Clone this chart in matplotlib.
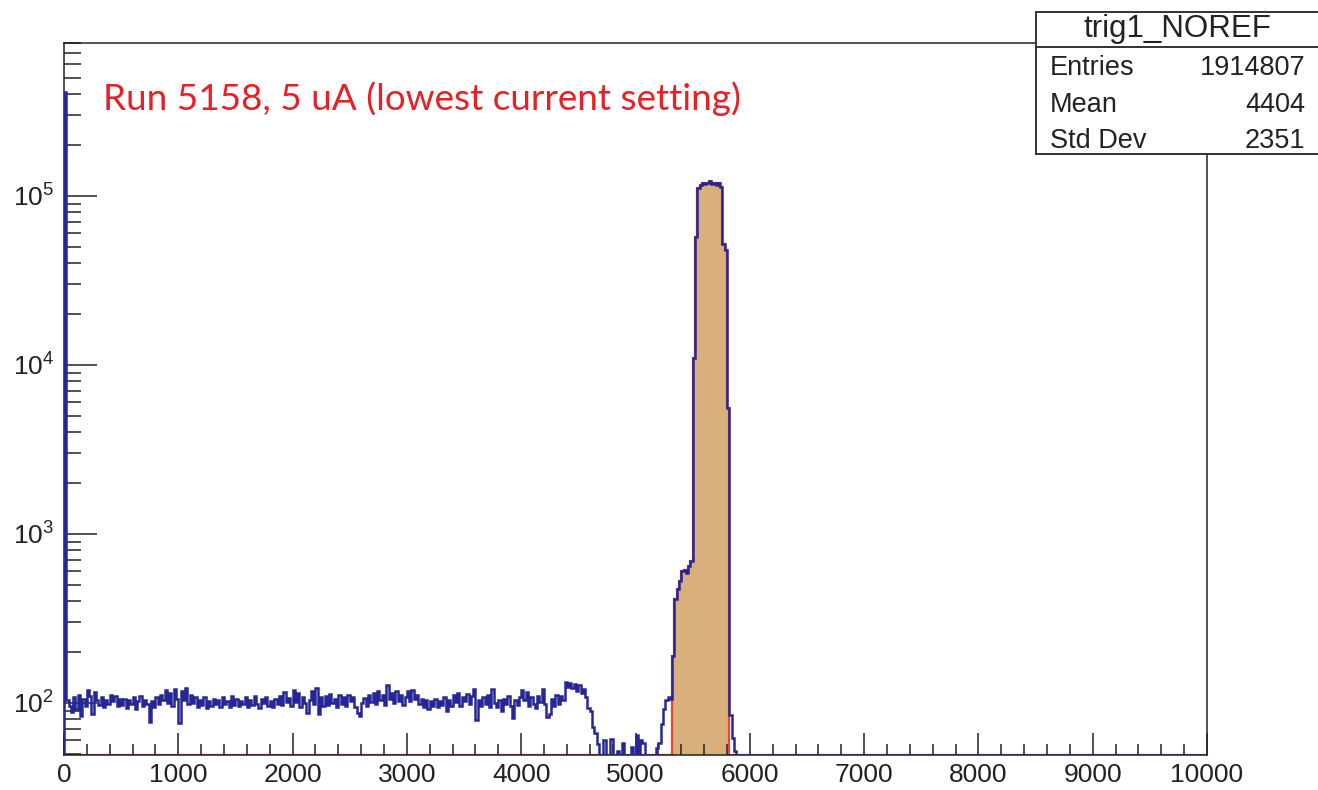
import numpy as np
import matplotlib
matplotlib.use("Agg")
import matplotlib.pyplot as plt
from matplotlib.ticker import LogLocator, FixedLocator, FixedFormatter, MultipleLocator, NullFormatter
from matplotlib.patches import Rectangle

# ---------------- data ----------------
x_min, x_max, n_bins = 0, 10000, 500
sel_lo, sel_hi = 5320, 5820          # range of the filled (selected) histogram

counts_nonzero = (
    [410000, 104, 96, 88, 109, 92, 112, 84, 106, 96, 120, 110, 86, 116, 104, 97, 108, 95, 104, 99, 112, 103, 110, 96, 106] +
    [97, 105, 93, 104, 98, 108, 92, 102, 110, 96, 104, 99, 77, 103, 95, 108, 99, 112, 104, 119, 100, 114, 96, 121, 106] +
    [76, 118, 104, 122, 98, 111, 100, 108, 94, 104, 97, 109, 93, 102, 96, 106, 98, 104, 95, 108, 99, 103, 95, 110, 97] +
    [105, 96, 103, 99, 108, 94, 104, 97, 110, 99, 93, 106, 100, 109, 96, 102, 95, 106, 99, 110, 97, 116, 101, 107, 96] +
    [120, 101, 115, 94, 108, 100, 87, 104, 118, 98, 123, 86, 109, 96, 110, 97, 113, 100, 106, 94, 111, 99, 108, 96, 112] +
    [102, 108, 95, 87, 84, 100, 107, 96, 112, 101, 114, 98, 118, 104, 112, 97, 128, 106, 114, 100, 118, 103, 111, 97, 108] +
    [117, 103, 120, 106, 112, 98, 106, 95, 104, 92, 103, 96, 105, 94, 102, 97, 108, 89, 104, 96, 112, 101, 114, 96, 108] +
    [103, 113, 98, 110, 121, 79, 104, 96, 108, 99, 112, 95, 121, 100, 94, 104, 90, 106, 98, 110, 96, 81, 104, 97, 108] +
    [120, 104, 116, 96, 108, 99, 93, 110, 101, 121, 98, 83, 86, 106, 96, 112, 99, 110, 104, 133, 124, 131, 122, 130, 118] +
    [127, 114, 121, 108, 93, 90, 72, 66, 57, 48, 44, 60, 42, 38, 61, 46, 40, 52, 44, 58, 42, 47, 40, 55, 43] +
    [65, 45, 60, 58, 44, 40, 46, 38, 42, 54, 58, 75, 92, 104, 108, 106, 190, 410, 470, 530, 600, 615, 590, 650, 690] +
    [11000, 57000, 112000, 116000, 119000, 117000, 120000, 122000, 118000, 120000, 116000, 119000, 113000,
     52000, 48000, 5600, 85, 62, 52]
)
counts = np.array(counts_nonzero + [0] * (n_bins - len(counts_nonzero)), dtype=float)

title_text = "Run 5158, 5 uA (lowest current setting)"
stats_title = "trig1_NOREF"
stats_names = ["Entries", "Mean", "Std Dev"]
stats_values = ["1914807", "4404", "2351"]

x_major = [0, 1000, 2000, 3000, 4000, 5000, 6000, 7000, 8000, 9000, 10000]
y_major = [1e2, 1e3, 1e4, 1e5]
y_major_labels = [r"$10^{2}$", r"$10^{3}$", r"$10^{4}$", r"$10^{5}$"]

# ---------------- styling ----------------
W, H = 1318, 790
plt.rcParams["font.family"] = ["Liberation Sans", "DejaVu Sans"]
plt.rcParams["mathtext.fontset"] = "custom"
plt.rcParams["mathtext.rm"] = "Liberation Sans"
plt.rcParams["mathtext.it"] = "Liberation Sans"

blue = "#262696"
red_edge = "#ee4433"
tan = "#d9b07c"
y_lo, y_hi = 49.2, 8.04e5

fig = plt.figure(figsize=(W / 100, H / 100), dpi=100)
fig.patch.set_facecolor("white")
ax = fig.add_axes([64 / W, 1 - 755 / H, (1207 - 64) / W, (755 - 43) / H])

edges = np.linspace(x_min, x_max, n_bins + 1)
sel_mask = (edges[:-1] >= sel_lo) & (edges[1:] <= sel_hi)
sel_counts = np.where(sel_mask, counts, 0)

ax.stairs(np.clip(sel_counts, y_lo, None), edges, baseline=y_lo, fill=True,
          facecolor=tan, edgecolor=red_edge, linewidth=1.6, zorder=1)
ax.stairs(np.clip(counts, y_lo, None), edges, baseline=y_lo,
          color=blue, linewidth=1.8, zorder=3)

ax.set_yscale("log")
ax.set_xlim(x_min, x_max)
ax.set_ylim(y_lo, y_hi)

ax.xaxis.set_major_locator(FixedLocator(x_major))
ax.xaxis.set_minor_locator(MultipleLocator(200))
ax.yaxis.set_major_locator(FixedLocator(y_major))
ax.yaxis.set_major_formatter(FixedFormatter(y_major_labels))
ax.yaxis.set_minor_locator(LogLocator(base=10, subs=np.arange(2, 10)))
ax.yaxis.set_minor_formatter(NullFormatter())

ax.tick_params(axis="both", which="both", direction="in", top=False, right=False,
               colors="#222222", width=1.1)
ax.tick_params(axis="x", which="major", length=16, labelsize=19, pad=6)
ax.tick_params(axis="x", which="minor", length=8)
ax.tick_params(axis="y", which="major", length=24, labelsize=19, pad=7)
ax.tick_params(axis="y", which="minor", length=12)

for s in ax.spines.values():
    s.set_color("#222222")
    s.set_linewidth(1.1)
    s.set_zorder(2.5)

ax.text(103 / W, 1 - 110 / H, title_text, transform=fig.transFigure,
        fontsize=26.6, color="#e82025", family=["Lato", "DejaVu Sans"], va="baseline", ha="left")

# stats box
bx0, by0, by1 = 1036 / W, 1 - 154 / H, 1 - 12 / H
fig.patches.append(Rectangle((bx0, by0), 1.02 - bx0, by1 - by0, transform=fig.transFigure,
                             facecolor="white", edgecolor="#333333", linewidth=1.4, zorder=5))
fig.add_artist(plt.Line2D([bx0, 1.0], [1 - 47 / H, 1 - 47 / H], transform=fig.transFigure,
                          color="#333333", linewidth=1.4, zorder=6))
fig.text((1036 + 1318) / 2 / W, 1 - 37 / H, stats_title, ha="center", va="baseline",
         fontsize=22.5, color="#222222", zorder=7)
for i, (n, v) in enumerate(zip(stats_names, stats_values)):
    yb = 1 - (75 + 36.5 * i) / H
    fig.text(1050 / W, yb, n, ha="left", va="baseline", fontsize=19.5, color="#222222", zorder=7)
    fig.text(1305 / W, yb, v, ha="right", va="baseline", fontsize=19.5, color="#222222", zorder=7)

fig.savefig("out.png", dpi=100)
